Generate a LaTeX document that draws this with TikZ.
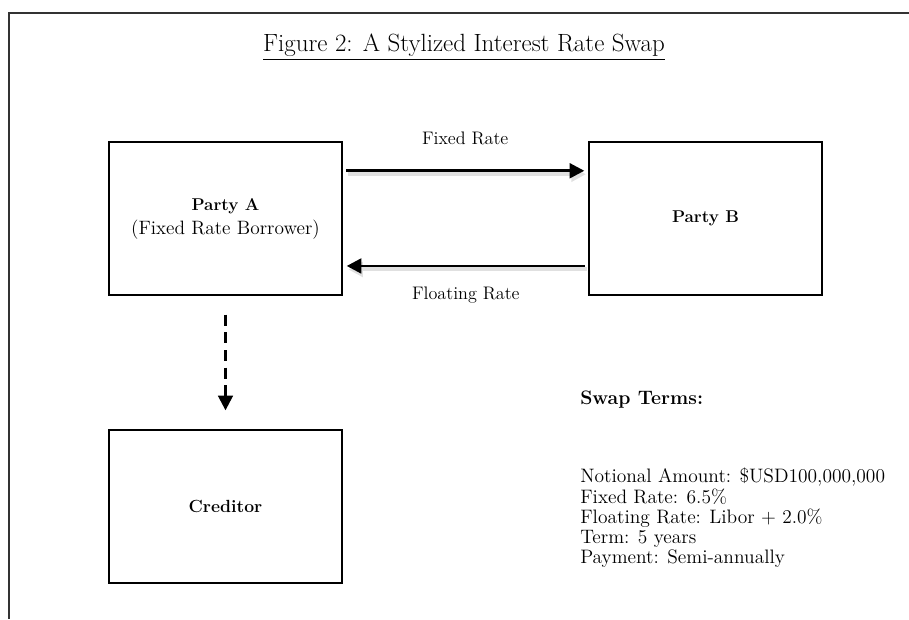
\documentclass[tikz,border=0pt]{standalone}
\usepackage{fontspec}
\usepackage{tikz}
\usetikzlibrary{arrows.meta,positioning}
\tikzset{
  party/.style = {rectangle, draw=black, line width=1pt, fill=white,
                  minimum width=174.75pt, minimum height=114.75pt,
                  align=center, inner sep=0pt,
                  font=\fontsize{14.5}{18}\selectfont},
  ar/.style    = {-{Triangle[length=11pt,width=11pt]}, draw=black, line width=2.2pt},
  arshade/.style = {ar, draw=black!12, fill=black!12, line width=3pt,
                  transform canvas={shift={(1.2pt,-2.6pt)}}},
  dar/.style   = {ar, line width=1.9pt, dash pattern=on 8.25pt off 5pt}
}

\begin{document}
\begin{tikzpicture}[
    x=0.75pt, y=-0.75pt,
    frame/.style={draw=black!80, line width=1.6pt},
    title/.style={font=\fontsize{18.7}{22}\selectfont, inner sep=0pt},
    lab/.style={font=\fontsize{13.6}{16}\selectfont, inner sep=0pt},
    terms/.style={font=\fontsize{14.6}{15.2}\selectfont, align=left, inner sep=0pt}
  ]
  \useasboundingbox (0,0) rectangle (909,619);

  % ===================== frame and title =====================
  \draw[frame] (909,13) -- (9,13) -- (9,619);
  \node[title] (title) at (464,47) {\underline{Figure 2: A Stylized Interest Rate Swap}};

  % ===================== the three parties =====================
  \node[party] (pa) at (225.5,218.5) {%
    \textbf{\fontsize{12.8}{18}\selectfont Party A}\\
    (Fixed Rate Borrower)};
  \node[party] (pb) at (705.5,218.5) {\textbf{\fontsize{12.8}{18}\selectfont Party B}};
  \node[party] (cr) at (225.5,506.5) {\textbf{\fontsize{13.2}{18}\selectfont Creditor}};

  % ===================== payment arrows =====================
  \draw[arshade] ([xshift=2.5pt,yshift=35.8pt]pa.east) -- ([xshift=-3pt,yshift=35.8pt]pb.west);
  \draw[arshade] ([xshift=-2.5pt,yshift=-35.6pt]pb.west) -- ([xshift=3pt,yshift=-35.6pt]pa.east);
  \draw[ar] ([xshift=2.5pt,yshift=35.8pt]pa.east) --
            node[lab, above=18.6pt] {Fixed Rate} ([xshift=-3pt,yshift=35.8pt]pb.west);
  \draw[ar] ([xshift=-2.5pt,yshift=-35.6pt]pb.west) --
            node[lab, below=14.7pt] {Floating Rate} ([xshift=3pt,yshift=-35.6pt]pa.east);
  \draw[dar] ([yshift=-14.25pt]pa.south) -- ([yshift=14.25pt]cr.north);

  % ===================== swap terms =====================
  \node[terms, anchor=north west] (terms) at (580,391) {%
    \textbf{Swap Terms:}\\[43.3pt]
    Notional Amount: \$USD100,000,000\\
    Fixed Rate: 6.5\%\\
    Floating Rate: Libor + 2.0\%\\
    Term: 5 years\\
    Payment: Semi-annually};
\end{tikzpicture}
\end{document}
